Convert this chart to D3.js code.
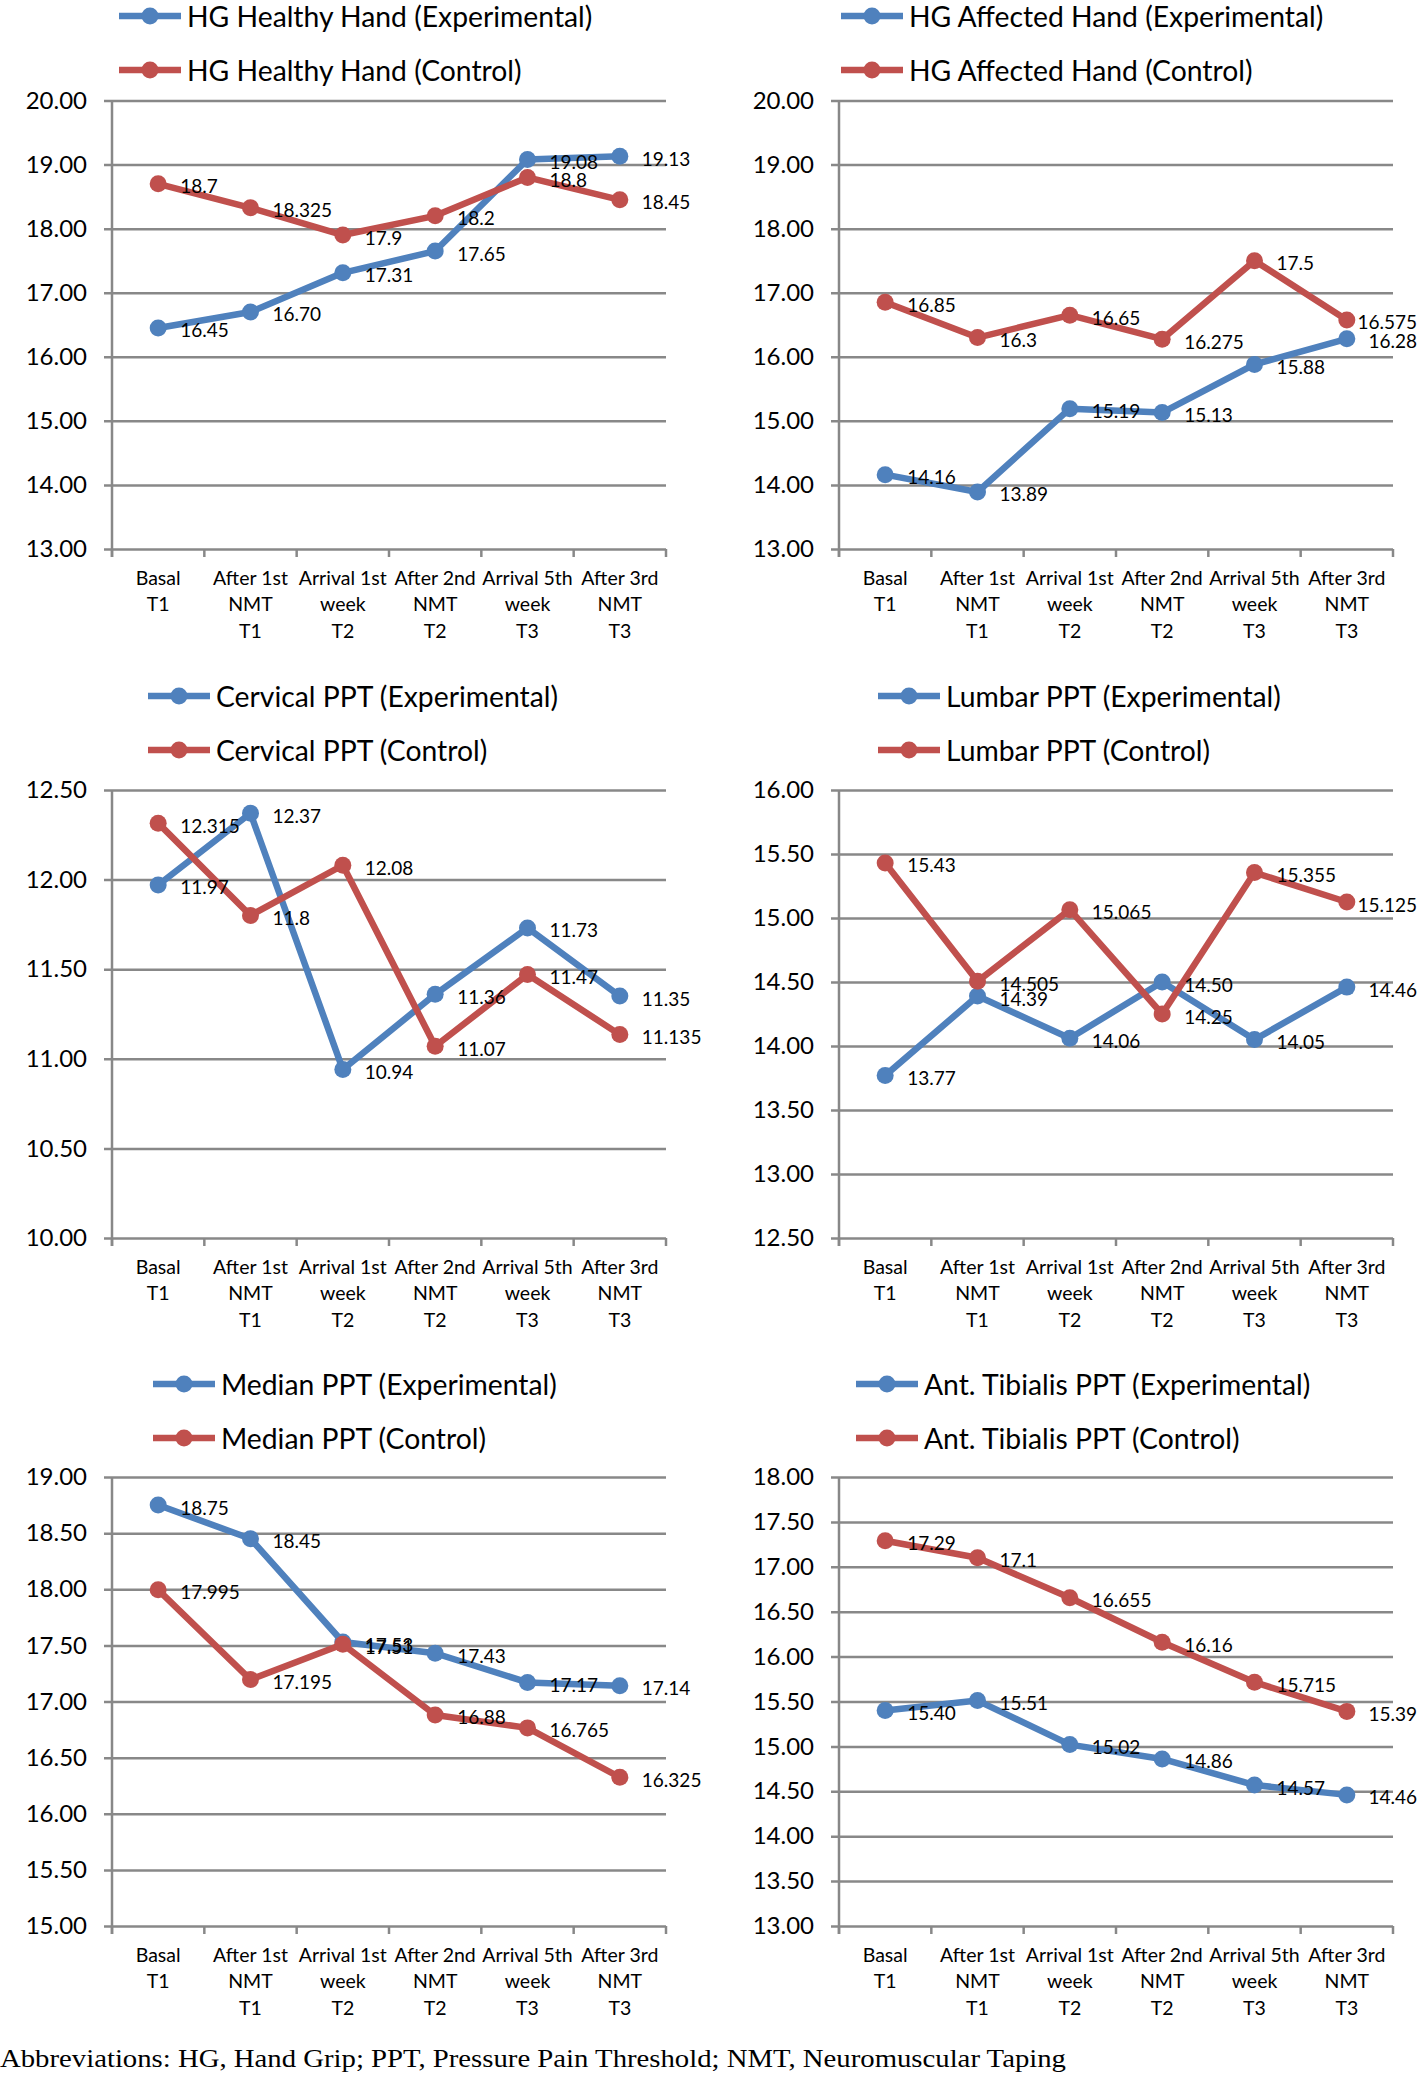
<!DOCTYPE html>
<html><head><meta charset="utf-8">
<script src="https://cdn.jsdelivr.net/npm/d3@7"></script>
<style>body{margin:0;background:#fff}svg{display:block}</style>
</head><body>
<svg id="chart" width="1418" height="2074"></svg>
<script>
// ---------- data ----------
const categories = [
  ["Basal", "T1"],
  ["After 1st", "NMT", "T1"],
  ["Arrival 1st", "week", "T2"],
  ["After 2nd", "NMT", "T2"],
  ["Arrival 5th", "week", "T3"],
  ["After 3rd", "NMT", "T3"]
];

const hgHealthyExp  = [16.45, 16.70, 17.31, 17.65, 19.08, 19.13];
const hgHealthyCtrl = [18.7, 18.325, 17.9, 18.2, 18.8, 18.45];
const hgAffectedExp  = [14.16, 13.89, 15.19, 15.13, 15.88, 16.28];
const hgAffectedCtrl = [16.85, 16.3, 16.65, 16.275, 17.5, 16.575];
const cervicalExp  = [11.97, 12.37, 10.94, 11.36, 11.73, 11.35];
const cervicalCtrl = [12.315, 11.8, 12.08, 11.07, 11.47, 11.135];
const lumbarExp  = [13.77, 14.39, 14.06, 14.50, 14.05, 14.46];
const lumbarCtrl = [15.43, 14.505, 15.065, 14.25, 15.355, 15.125];
const medianExp  = [18.75, 18.45, 17.53, 17.43, 17.17, 17.14];
const medianCtrl = [17.995, 17.195, 17.51, 16.88, 16.765, 16.325];
const tibialisExp  = [15.40, 15.51, 15.02, 14.86, 14.57, 14.46];
const tibialisCtrl = [17.29, 17.1, 16.655, 16.16, 15.715, 15.39];

const ticksHG       = [13, 14, 15, 16, 17, 18, 19, 20];
const ticksCervical = [10, 10.5, 11, 11.5, 12, 12.5];
const ticksLumbar   = [12.5, 13, 13.5, 14, 14.5, 15, 15.5, 16];
const ticksMedian   = [15, 15.5, 16, 16.5, 17, 17.5, 18, 18.5, 19];
const ticksTibialis = [13, 13.5, 14, 14.5, 15, 15.5, 16, 16.5, 17, 17.5, 18];

const seriesNamesExp = [
  "HG Healthy Hand (Experimental)", "HG Affected Hand (Experimental)",
  "Cervical PPT (Experimental)", "Lumbar PPT (Experimental)",
  "Median PPT (Experimental)", "Ant. Tibialis PPT (Experimental)"
];
const seriesNamesCtrl = [
  "HG Healthy Hand (Control)", "HG Affected Hand (Control)",
  "Cervical PPT (Control)", "Lumbar PPT (Control)",
  "Median PPT (Control)", "Ant. Tibialis PPT (Control)"
];
const footnote = "Abbreviations: HG, Hand Grip; PPT, Pressure Pain Threshold; NMT, Neuromuscular Taping";

// ---------- layout / style ----------
const panels = [
  {exp: hgHealthyExp, ctrl: hgHealthyCtrl, ticks: ticksHG, x0: 112, x1: 666, top: 100.5, bottom: 549, legY: 16, legX: 119},
  {exp: hgAffectedExp, ctrl: hgAffectedCtrl, ticks: ticksHG, x0: 839, x1: 1393, top: 100.5, bottom: 549, legY: 16, legX: 841},
  {exp: cervicalExp, ctrl: cervicalCtrl, ticks: ticksCervical, x0: 112, x1: 666, top: 790, bottom: 1238, legY: 696, legX: 148},
  {exp: lumbarExp, ctrl: lumbarCtrl, ticks: ticksLumbar, x0: 839, x1: 1393, top: 790, bottom: 1238, legY: 696, legX: 878},
  {exp: medianExp, ctrl: medianCtrl, ticks: ticksMedian, x0: 112, x1: 666, top: 1477, bottom: 1926, legY: 1384, legX: 153},
  {exp: tibialisExp, ctrl: tibialisCtrl, ticks: ticksTibialis, x0: 839, x1: 1393, top: 1477, bottom: 1926, legY: 1384, legX: 856}
];
const BLUE = "#4F81BD", RED = "#C0504D", GRID = "#888888";
const FONT = "Lato, Carlito, 'Open Sans', sans-serif";
const W = 1418;

const svg = d3.select("#chart");
svg.append("rect").attr("width", W).attr("height", 2074).attr("fill", "#fff");

panels.forEach((p, pi) => {
  const g = svg.append("g");
  const x = d3.scaleBand().domain(d3.range(categories.length)).range([p.x0, p.x1]).padding(0);
  const cx = i => x(i) + x.bandwidth() / 2;
  const y = d3.scaleLinear().domain(d3.extent(p.ticks)).range([p.bottom, p.top]);

  // y axis with gridlines
  const yAxis = d3.axisLeft(y).tickValues(p.ticks).tickFormat(d3.format(".2f"))
    .tickSizeInner(-(p.x1 - p.x0)).tickSizeOuter(0).tickPadding(25);
  const ya = g.append("g").attr("transform", `translate(${p.x0},0)`).call(yAxis);
  ya.select(".domain").remove();
  ya.selectAll(".tick line").attr("x1", -8).attr("stroke", GRID).attr("stroke-width", 2.5);
  ya.selectAll(".tick text").attr("font-family", FONT).attr("font-size", 24).attr("fill", "#000");

  // vertical axis line
  g.append("line").attr("x1", p.x0).attr("x2", p.x0).attr("y1", p.top).attr("y2", p.bottom + 8)
    .attr("stroke", GRID).attr("stroke-width", 2.5);

  // x axis: tick marks at category boundaries
  const bounds = d3.range(categories.length + 1).map(i => i < categories.length ? x(i) : p.x1);
  g.selectAll(".xt").data(bounds).join("line")
    .attr("x1", d => d).attr("x2", d => d).attr("y1", p.bottom).attr("y2", p.bottom + 8)
    .attr("stroke", GRID).attr("stroke-width", 2.5);

  // x labels
  const xl = g.selectAll(".xl").data(categories).join("text")
    .attr("font-family", FONT).attr("font-size", 19.5).attr("text-anchor", "middle").attr("fill", "#000");
  xl.each(function(lines, i) {
    const t = d3.select(this);
    lines.forEach((ln, k) => {
      t.append("tspan").attr("x", cx(i)).attr("y", p.bottom + 28 + k * 26.5)
        .attr("dominant-baseline", "central").text(ln);
    });
  });

  // series
  const series = [
    {vals: p.ctrl, color: RED, fmt: d => String(d)},
    {vals: p.exp, color: BLUE, fmt: d3.format(".2f")}
  ];
  const line = d3.line().x((d, i) => cx(i)).y(d => y(d));
  [series[1], series[0]].forEach(s => {
    g.append("path").attr("d", line(s.vals)).attr("fill", "none").attr("stroke", s.color)
      .attr("stroke-width", 6.5).attr("stroke-linejoin", "round");
    g.selectAll(null).data(s.vals).join("circle")
      .attr("cx", (d, i) => cx(i)).attr("cy", d => y(d)).attr("r", 8.5).attr("fill", s.color);
  });
  [series[1], series[0]].forEach(s => {
    g.selectAll(null).data(s.vals).join("text")
      .attr("x", (d, i) => cx(i) + 22).attr("y", d => y(d) + 2)
      .attr("dominant-baseline", "central")
      .attr("font-family", FONT).attr("font-size", 19).attr("fill", "#000")
      .text(s.fmt)
      .each(function() {
        // keep the label inside the picture, as the original chart does
        const t = d3.select(this);
        const w = this.getComputedTextLength();
        const xx = +t.attr("x");
        if (xx + w > W - 1) t.attr("x", W - 1 - w);
      });
  });

  // legend
  const legs = [
    {name: seriesNamesExp[pi], color: BLUE, yy: p.legY},
    {name: seriesNamesCtrl[pi], color: RED, yy: p.legY + 54}
  ];
  legs.forEach(l => {
    g.append("line").attr("x1", p.legX).attr("x2", p.legX + 62).attr("y1", l.yy).attr("y2", l.yy)
      .attr("stroke", l.color).attr("stroke-width", 6.5);
    g.append("circle").attr("cx", p.legX + 31).attr("cy", l.yy).attr("r", 8.5).attr("fill", l.color);
    g.append("text").attr("x", p.legX + 68).attr("y", l.yy).attr("dominant-baseline", "central")
      .attr("font-family", FONT).attr("font-size", 28.3).attr("fill", "#000").text(l.name);
  });
});

svg.append("text").attr("x", 0).attr("y", 2058).attr("dominant-baseline", "central")
  .attr("font-family", "'Liberation Serif', 'DejaVu Serif', serif").attr("font-size", 26)
  .attr("textLength", 1066).attr("lengthAdjust", "spacingAndGlyphs").attr("fill", "#000")
  .text(footnote);
</script>
</body></html>
